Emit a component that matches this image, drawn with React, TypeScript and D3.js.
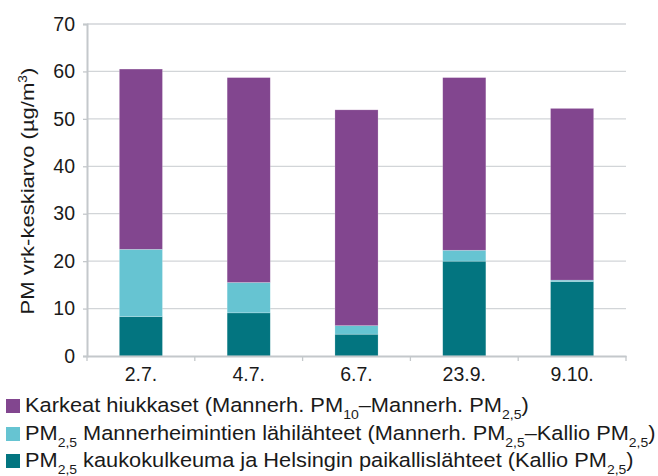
import React, { useEffect, useRef } from 'react';
import * as d3 from 'd3';

const dates = ['2.7.', '4.7.', '6.7.', '23.9.', '9.10.'];
// Kallio PM2.5
const kallio = [8.3, 9.1, 4.6, 20.0, 15.7];
// Mannerh. PM2.5 - Kallio PM2.5
const lahi = [14.2, 6.4, 1.8, 2.3, 0.3];
// Mannerh. PM10 - Mannerh. PM2.5
const karkeat = [38.0, 43.2, 45.5, 36.4, 36.2];
const yTicks = [0, 10, 20, 30, 40, 50, 60, 70];

const seriesKeys = ['kallio', 'lahi', 'karkeat'];
const colors: Record<string, string> = {
    kallio: '#037580',
    lahi: '#66C4D2',
    karkeat: '#82468F',
};

// legend rows: [text, isSubscript]
const legendRows: Array<{ key: string; parts: Array<[string, boolean]> }> = [
    {
        key: 'karkeat',
        parts: [
            ['Karkeat hiukkaset (Mannerh. PM', false],
            ['10', true],
            ['–Mannerh. PM', false],
            ['2,5', true],
            [')', false],
        ],
    },
    {
        key: 'lahi',
        parts: [
            ['PM', false],
            ['2,5', true],
            [' Mannerheimintien lähilähteet (Mannerh. PM', false],
            ['2,5', true],
            ['–Kallio PM', false],
            ['2,5', true],
            [')', false],
        ],
    },
    {
        key: 'kallio',
        parts: [
            ['PM', false],
            ['2,5', true],
            [' kaukokulkeuma ja Helsingin paikallislähteet (Kallio PM', false],
            ['2,5', true],
            [')', false],
        ],
    },
];

const W = 658;
const H = 476;
const margin = { left: 87, right: 32, top: 24, bottom: 120 };

// stretch a text horizontally so it spans the given width
function fitWidth(node: SVGTextElement, x0: number, target: number, rotated = false) {
    const bb = node.getBBox();
    const len = rotated ? bb.width : bb.width;
    if (!len) return;
    const s = target / len;
    const cur = node.getAttribute('transform') || '';
    node.setAttribute(
        'transform',
        `${cur} translate(${x0},0) scale(${s},1) translate(${-x0},0)`,
    );
}

const App: React.FC = () => {
    const svgRef = useRef<SVGSVGElement>(null);

    useEffect(() => {
        document.body.style.margin = '0';
        if (!svgRef.current) return;
        const svg = d3.select(svgRef.current);
        svg.selectAll('*').remove();

        const font = '"Liberation Sans", Arial, sans-serif';
        const ink = '#1a1a1a';
        const axisCol = '#C4C8CB';
        const innerW = W - margin.left - margin.right;
        const innerH = H - margin.top - margin.bottom;

        const x = d3.scaleBand<string>().domain(dates).range([0, innerW]);
        const y = d3.scaleLinear().domain([0, 70]).range([innerH, 0]);

        const table = dates.map((d, i) => ({
            date: d,
            kallio: kallio[i],
            lahi: lahi[i],
            karkeat: karkeat[i],
        }));
        const stacked = d3.stack<any>().keys(seriesKeys)(table);

        const g = svg
            .append('g')
            .attr('transform', `translate(${margin.left}, ${margin.top})`);

        // gridlines
        g.selectAll('.grid')
            .data(yTicks.filter((t) => t > 0))
            .join('line')
            .attr('x1', 0)
            .attr('x2', innerW)
            .attr('y1', (d) => y(d))
            .attr('y2', (d) => y(d))
            .attr('stroke', '#D2D5D8')
            .attr('stroke-width', 1.3);

        // bars
        const barW = x.bandwidth() * 0.4;
        g.selectAll('.layer')
            .data(stacked)
            .join('g')
            .attr('fill', (s) => colors[s.key])
            .selectAll('rect')
            .data((s) => s)
            .join('rect')
            .attr('x', (d) => (x(d.data.date) ?? 0) + (x.bandwidth() - barW) / 2)
            .attr('width', barW)
            .attr('y', (d) => y(d[1]))
            .attr('height', (d) => y(d[0]) - y(d[1]))
            .attr('stroke', '#ffffff')
            .attr('stroke-opacity', 0.35)
            .attr('stroke-width', 0.6);

        // y axis
        const yAxis = g
            .append('g')
            .call(d3.axisLeft(y).tickValues(yTicks).tickSize(4).tickPadding(8));
        yAxis.select('.domain').attr('stroke', axisCol).attr('stroke-width', 2);
        yAxis.selectAll('.tick line').attr('stroke', axisCol).attr('stroke-width', 1.3);
        yAxis
            .selectAll('text')
            .style('font-family', font)
            .style('font-size', '19.5px')
            .style('fill', ink);

        // x axis
        const xAxis = g
            .append('g')
            .attr('transform', `translate(0, ${innerH})`)
            .call(d3.axisBottom(x).tickSize(0).tickPadding(11));
        xAxis.select('.domain').attr('stroke', axisCol).attr('stroke-width', 2);
        xAxis
            .selectAll('text')
            .style('font-family', font)
            .style('font-size', '19.5px')
            .style('fill', ink);
        // band boundary ticks
        g.selectAll('.xtick')
            .data([0, ...dates.map((d) => (x(d) ?? 0) + x.bandwidth())])
            .join('line')
            .attr('x1', (d) => d)
            .attr('x2', (d) => d)
            .attr('y1', innerH)
            .attr('y2', innerH + 5)
            .attr('stroke', axisCol)
            .attr('stroke-width', 1.3);

        // y title
        const title = svg
            .append('text')
            .attr('transform', `translate(34, ${margin.top + innerH / 2 + 1}) rotate(-90)`)
            .attr('text-anchor', 'middle')
            .style('font-family', font)
            .style('font-size', '19px')
            .style('fill', ink);
        title.append('tspan').text('PM vrk-keskiarvo (µg/m');
        title.append('tspan').attr('dy', -7).style('font-size', '12px').text('3');
        title.append('tspan').attr('dy', 7).text(')');
        fitWidth(title.node() as SVGTextElement, 0, 247);

        // legend
        const rowY = [412, 440, 467];
        const rowW = [504, 631, 609];
        legendRows.forEach((row, i) => {
            const lg = svg.append('g').attr('transform', `translate(0, ${rowY[i]})`);
            lg.append('rect')
                .attr('x', 6)
                .attr('y', -13)
                .attr('width', 14)
                .attr('height', 14)
                .attr('fill', colors[row.key]);
            const t = lg
                .append('text')
                .attr('x', 25)
                .attr('y', 0)
                .style('font-family', font)
                .style('font-size', '19.5px')
                .style('fill', ink);
            let prevSub = false;
            row.parts.forEach(([txt, sub]) => {
                const dy = sub && !prevSub ? 7 : !sub && prevSub ? -7 : 0;
                t.append('tspan')
                    .attr('dy', dy)
                    .style('font-size', sub ? '12.5px' : '19.5px')
                    .text(txt);
                prevSub = sub;
            });
            fitWidth(t.node() as SVGTextElement, 25, rowW[i]);
        });
    }, []);

    return (
        <svg
            ref={svgRef}
            width={W}
            height={H}
            style={{ display: 'block', background: '#ffffff' }}
        />
    );
};

export default App;
